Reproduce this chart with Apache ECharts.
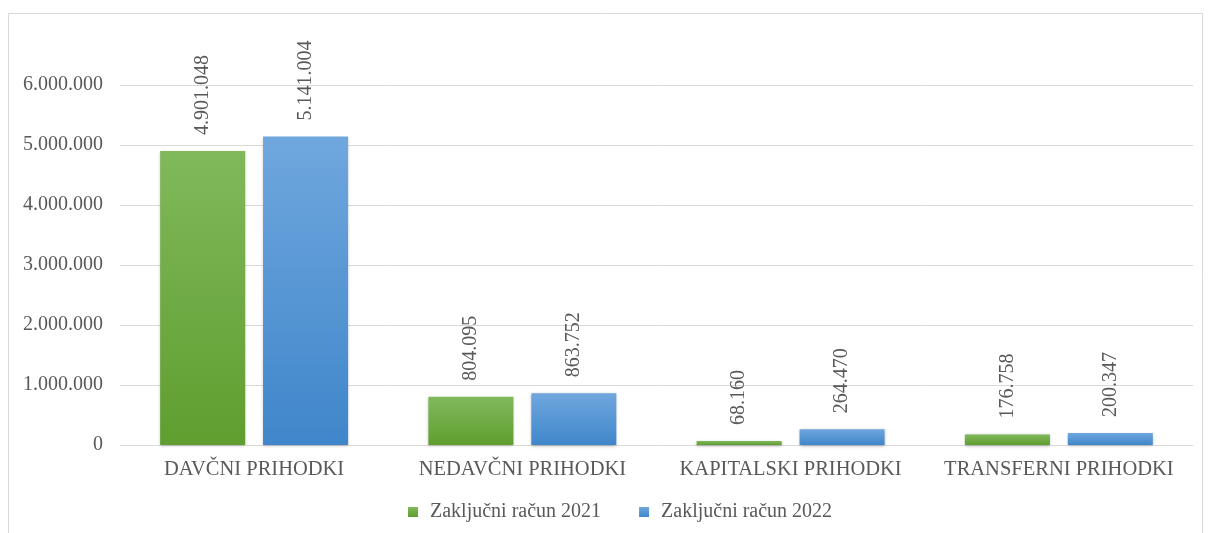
<!DOCTYPE html>
<html><head><meta charset="utf-8">
<script src="https://cdn.jsdelivr.net/npm/echarts@6/dist/echarts.min.js"></script>
<style>html,body{margin:0;padding:0;background:#fff}#c{width:1210px;height:533px}</style>
</head><body><div id="c"></div>
<script>
const categories = ['DAVČNI PRIHODKI', 'NEDAVČNI PRIHODKI', 'KAPITALSKI PRIHODKI', 'TRANSFERNI PRIHODKI'];
const seriesNames = ['Zaključni račun 2021', 'Zaključni račun 2022'];
const values2021 = [4901048, 804095, 68160, 176758];
const values2022 = [5141004, 863752, 264470, 200347];

function fmt(v) { return String(Math.round(v)).replace(/\B(?=(\d{3})+(?!\d))/g, '.'); }
const FONT = 'Liberation Serif';
const TXT = '#595959';

function grad(top, bottom) {
  return new echarts.graphic.LinearGradient(0, 0, 0, 1, [{offset: 0, color: top}, {offset: 1, color: bottom}]);
}

const chart = echarts.init(document.getElementById('c'), null, {renderer: 'canvas'});
const labelOpt = {
  show: true, position: 'top', rotate: 90, align: 'left', verticalAlign: 'middle',
  distance: 16, color: TXT, fontFamily: FONT, fontSize: 20,
  formatter: p => fmt(p.value)
};
chart.setOption({
  animation: false,
  graphic: [{type: 'rect', shape: {x: 8.5, y: 13.5, width: 1194, height: 530}, style: {fill: 'none', stroke: '#d9d9d9', lineWidth: 1}, silent: true}],
  grid: {left: 120, right: 17, top: 85, bottom: 88},
  legend: {
    bottom: 6, left: 403, itemWidth: 10, itemHeight: 10, itemGap: 38,
    icon: 'rect',
    textStyle: {color: TXT, fontFamily: FONT, fontSize: 20, padding: [0, 0, 0, 7]},
    data: seriesNames
  },
  xAxis: {
    type: 'category', data: categories,
    axisLine: {lineStyle: {color: '#d9d9d9', width: 1}},
    axisTick: {show: false},
    axisLabel: {color: TXT, fontFamily: FONT, fontSize: 20.5, margin: 14, interval: 0}
  },
  yAxis: {
    type: 'value', min: 0, max: 6000000, interval: 1000000,
    axisLine: {show: false}, axisTick: {show: false},
    splitLine: {lineStyle: {color: '#d9d9d9', width: 1}},
    axisLabel: {color: TXT, fontFamily: FONT, fontSize: 20, margin: 17, formatter: v => fmt(v)}
  },
  series: [
    {
      name: seriesNames[0], type: 'bar', data: values2021,
      barWidth: '31.7%', barGap: '21%',
      itemStyle: {color: grad('#80b95b', '#5f9e2f'), shadowColor: 'rgba(0,0,0,0.3)', shadowBlur: 3, shadowOffsetY: 1},
      label: labelOpt
    },
    {
      name: seriesNames[1], type: 'bar', data: values2022,
      barWidth: '31.7%',
      itemStyle: {color: grad('#70a7de', '#3f86ca'), shadowColor: 'rgba(0,0,0,0.3)', shadowBlur: 3, shadowOffsetY: 1},
      label: labelOpt
    }
  ]
});
</script></body></html>
